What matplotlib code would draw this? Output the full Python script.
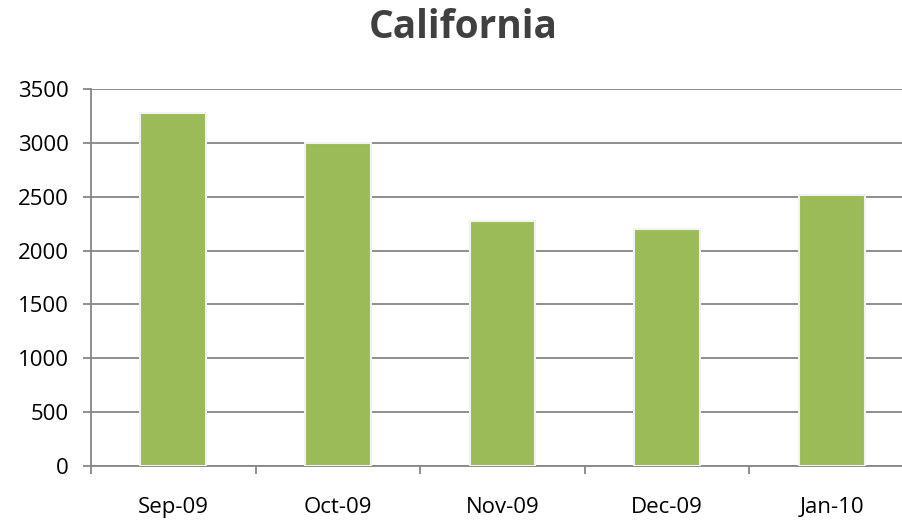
import matplotlib.pyplot as plt
import numpy as np

months = ["Sep-09", "Oct-09", "Nov-09", "Dec-09", "Jan-10"]
values = [3280, 3000, 2275, 2200, 2515]
yticks = [0, 500, 1000, 1500, 2000, 2500, 3000, 3500]

plt.rcParams['font.family'] = ['Open Sans', 'DejaVu Sans']

fig = plt.figure(figsize=(9.02, 5.23), dpi=100)
ax = fig.add_axes([91 / 902, (523 - 466) / 523, 823 / 902, 377 / 523])

x = np.arange(len(months))
ax.bar(x, values, width=0.4, color="#9BBB59", edgecolor="#f2f2f2", linewidth=1.5, zorder=3)

ax.set_xlim(-0.5, len(months) - 0.5)
ax.set_ylim(0, 3500)
ax.set_yticks(yticks)
ax.yaxis.grid(True, color="#868686", linewidth=1.3)
ax.set_axisbelow(True)

# category labels centered, tick marks between categories
ax.set_xticks(x)
ax.set_xticklabels(months, fontsize=16)
ax.tick_params(axis="x", which="major", length=0, pad=22)
ax.set_xticks(np.arange(-0.5, len(months), 1), minor=True)
ax.tick_params(axis="x", which="minor", length=6, width=1.3, color="#868686")
ax.tick_params(axis="y", length=6, width=1.3, color="#868686", labelsize=16, pad=10)

for side in ["top", "right"]:
    ax.spines[side].set_visible(False)
for side in ["left", "bottom"]:
    ax.spines[side].set_color("#868686")
    ax.spines[side].set_linewidth(1.3)

fig.text(463 / 902, 1 - 28 / 523, "California", ha="center", va="center",
         fontsize=28, fontweight="bold", color="#404040")

fig.savefig("out.png", dpi=100)
